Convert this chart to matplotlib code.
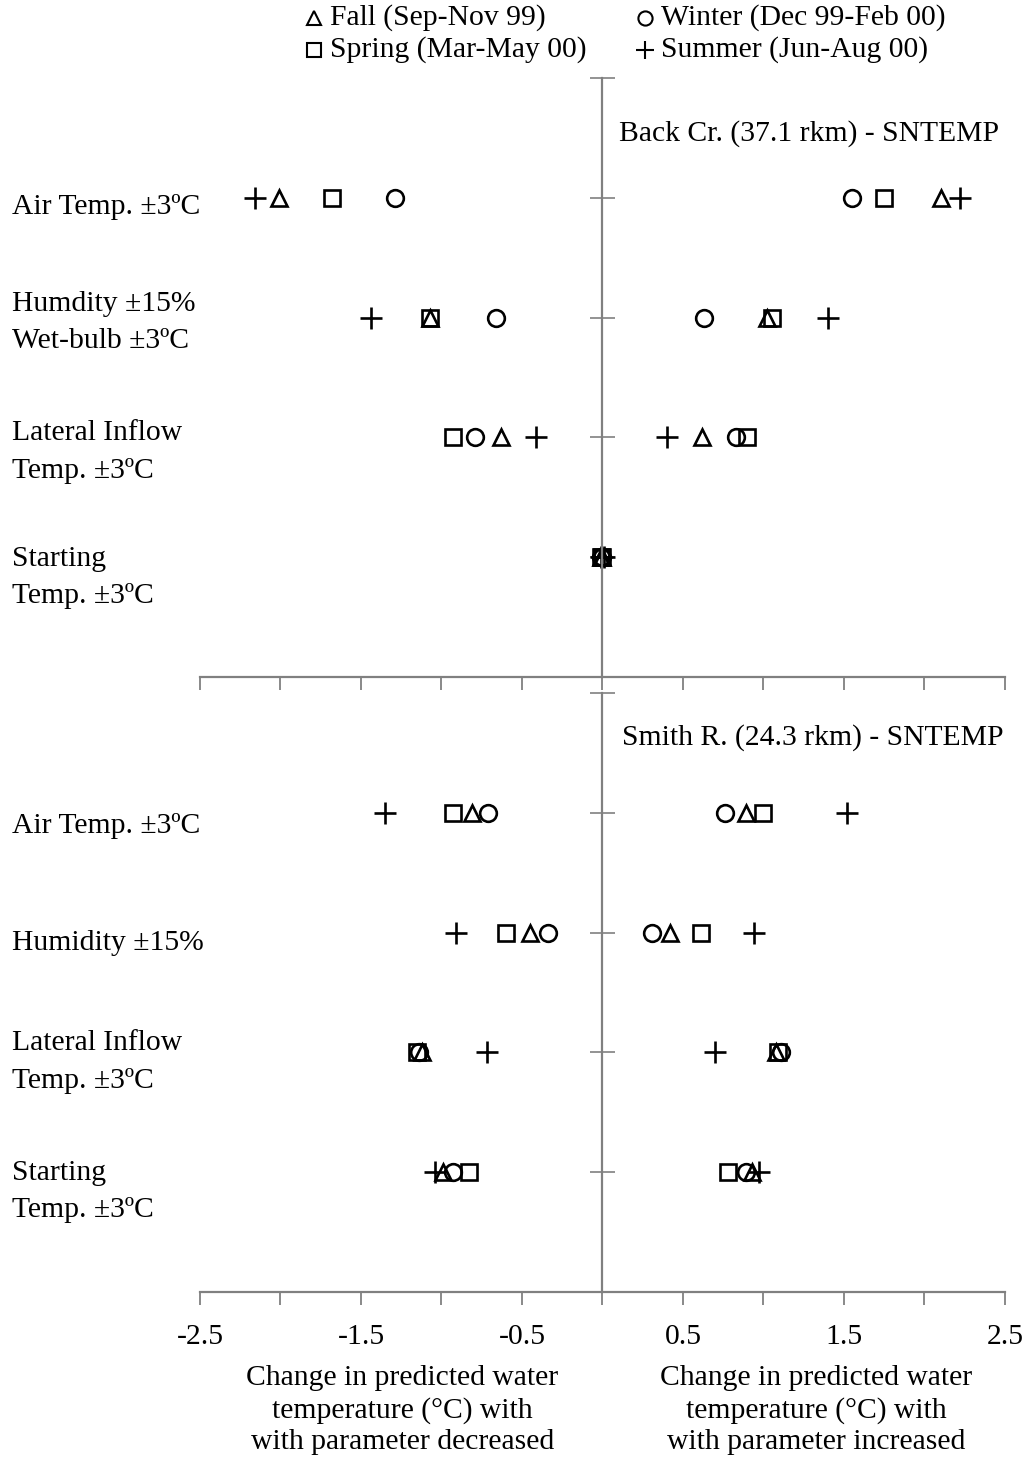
import matplotlib

matplotlib.use("Agg")
import matplotlib.pyplot as plt
from matplotlib.lines import Line2D

plt.rcParams["font.family"] = ["Liberation Serif", "DejaVu Serif"]

# seasons, in legend order
seasons = ["Fall (Sep-Nov 99)", "Winter (Dec 99-Feb 00)",
           "Spring (Mar-May 00)", "Summer (Jun-Aug 00)"]
markers = ["^", "o", "s", "+"]
keys = ["fall", "winter", "spring", "summer"]

# row positions (top to bottom) and labels
rows = [4, 3, 2, 1]
back_labels = ["Air Temp. \u00b13\u00baC", "Humdity \u00b115%\nWet-bulb \u00b13\u00baC",
               "Lateral Inflow\nTemp. \u00b13\u00baC", "Starting\nTemp. \u00b13\u00baC"]
smith_labels = ["Air Temp. \u00b13\u00baC", "Humidity \u00b115%",
                "Lateral Inflow\nTemp. \u00b13\u00baC", "Starting\nTemp. \u00b13\u00baC"]

# Back Cr. : per season, one value per row [air, humidity, lateral, starting]
back_dec = {
    "fall":   [-2.01, -1.07, -0.63, -0.01],
    "winter": [-1.29, -0.66, -0.79, -0.01],
    "spring": [-1.68, -1.07, -0.93, -0.01],
    "summer": [-2.16, -1.44, -0.41, -0.01],
}
back_inc = {
    "fall":   [2.10, 1.02, 0.62, 0.0],
    "winter": [1.55, 0.63, 0.83, 0.0],
    "spring": [1.75, 1.05, 0.90, 0.0],
    "summer": [2.22, 1.40, 0.40, 0.01],
}
# Smith R.
smith_dec = {
    "fall":   [-0.81, -0.45, -1.12, -0.99],
    "winter": [-0.71, -0.34, -1.14, -0.93],
    "spring": [-0.93, -0.60, -1.15, -0.83],
    "summer": [-1.35, -0.91, -0.72, -1.04],
}
smith_inc = {
    "fall":   [0.89, 0.42, 1.08, 0.93],
    "winter": [0.76, 0.31, 1.11, 0.89],
    "spring": [1.00, 0.61, 1.09, 0.78],
    "summer": [1.52, 0.94, 0.70, 0.97],
}

AXC = "#808080"
FS = 21.3


def marker_kw(m):
    if m == "+":
        return dict(marker=m, ms=16, mew=1.9, color="black")
    return dict(marker=m, ms=12, mew=1.9, mfc="none", mec="black")


def draw_panel(ax, dec, inc, labels, label_offsets):
    for k, m in zip(keys, markers):
        for vals in (dec[k], inc[k]):
            ax.plot(vals, rows, ls="none", **marker_kw(m))
    ax.set_xlim(-2.5, 2.5)
    ax.set_ylim(0, 5)
    for s in ("top", "right"):
        ax.spines[s].set_visible(False)
    ax.spines["left"].set_position(("data", 0))
    for s in ("left", "bottom"):
        ax.spines[s].set_color(AXC)
        ax.spines[s].set_linewidth(1.6)
    ax.set_yticks([0, 1, 2, 3, 4, 5])
    ax.set_yticklabels([])
    ax.tick_params(axis="y", direction="inout", length=18, width=1.2, color=AXC)
    ax.set_xticks([-2.5, -2, -1.5, -1, -0.5, 0, 0.5, 1, 1.5, 2, 2.5])
    ax.tick_params(axis="x", direction="out", length=9, width=1.3, color=AXC)
    ax.set_xticklabels([])
    for y, lab, off in zip(rows, labels, label_offsets):
        ax.text(-0.2335, y + off, lab, transform=ax.get_yaxis_transform(),
                ha="left", va="center", fontsize=FS, linespacing=1.58)
    ax.patch.set_visible(False)


fig = plt.figure(figsize=(10.34, 14.81), dpi=100)
ax1 = fig.add_axes([0.1934, 0.5429, 0.7785, 0.4044])
ax2 = fig.add_axes([0.1934, 0.1276, 0.7785, 0.4044])

draw_panel(ax1, back_dec, back_inc, back_labels, [-0.08, -0.04, -0.12, -0.17])
ax1.text(0.105, 4.54, "Back Cr. (37.1 rkm) - SNTEMP", ha="left", va="center", fontsize=FS)
draw_panel(ax2, smith_dec, smith_inc, smith_labels, [-0.11, -0.09, -0.08, -0.16])
ax2.text(0.12, 4.63, "Smith R. (24.3 rkm) - SNTEMP", ha="left", va="center", fontsize=FS)

ax2.set_xticklabels(["-2.5", "", "-1.5", "", "-0.5", "", "0.5", "", "1.5", "", "2.5"],
                    fontsize=FS)
ax2.tick_params(axis="x", pad=14)

fig.text(0.389, 1 - 1365 / 1481, "Change in predicted water\ntemperature (\u00b0C) with\nwith parameter decreased",
         ha="center", va="top", fontsize=FS, linespacing=1.27)
fig.text(0.789, 1 - 1365 / 1481, "Change in predicted water\ntemperature (\u00b0C) with\nwith parameter increased",
         ha="center", va="top", fontsize=FS, linespacing=1.27)

# legend, laid out by hand in two columns
leg_x = [314 / 1034, 645 / 1034]
leg_y = [1 - 18 / 1481, 1 - 50 / 1481]
order = [(0, 0, 0), (1, 0, 1), (2, 1, 0), (3, 1, 1)]  # season idx, row, col
for i, r, c in order:
    kw = marker_kw(markers[i])
    kw["ms"] = kw["ms"] * 0.85
    kw["mew"] = 1.5
    fig.add_artist(Line2D([leg_x[c]], [leg_y[r]], ls="none", transform=fig.transFigure, **kw))
    fig.text(leg_x[c] + 16 / 1034, leg_y[r], seasons[i], ha="left", va="center", fontsize=FS)

fig.savefig("out.png", dpi=100)
